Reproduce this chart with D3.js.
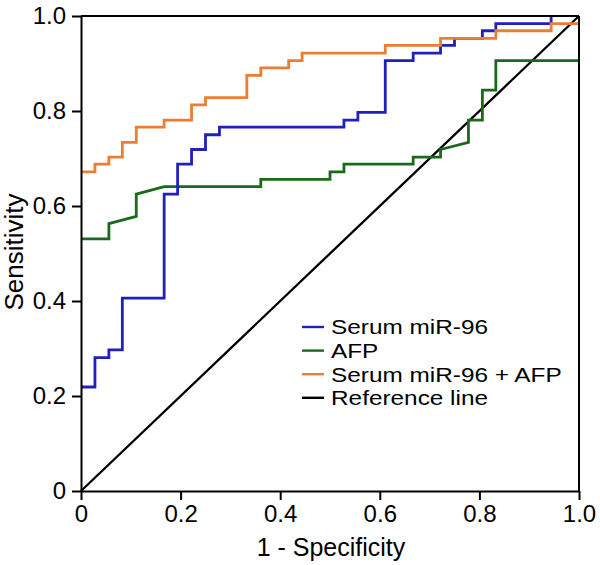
<!DOCTYPE html>
<html>
<head>
<meta charset="utf-8">
<script src="https://cdn.jsdelivr.net/npm/d3@7"></script>
<style>
  html, body { margin: 0; padding: 0; background: #fff; }
  svg { display: block; }
  text { font-family: "Liberation Sans", Arial, Helvetica, sans-serif; fill: #000; }
</style>
</head>
<body>
<svg id="chart" width="600" height="565"></svg>
<script>
// ---- Data ----
const seriesNames = ["Serum miR-96", "AFP", "Serum miR-96 + AFP", "Reference line"];
const seriesColors = ["#2020bd", "#1b6a1b", "#ec7d33", "#000000"];

// ROC vertices: 1 - Specificity (fpr) and Sensitivity (tpr)
const mirFpr = [0, 0.028, 0.028, 0.056, 0.056, 0.083, 0.083, 0.167, 0.167, 0.194, 0.194, 0.222, 0.222, 0.25, 0.25, 0.278, 0.278, 0.528, 0.528, 0.556, 0.556, 0.611, 0.611, 0.667, 0.667, 0.722, 0.722, 0.75, 0.75, 0.806, 0.806, 0.833, 0.833, 0.944, 0.944];
const mirTpr = [0.219, 0.219, 0.281, 0.281, 0.297, 0.297, 0.406, 0.406, 0.625, 0.625, 0.688, 0.688, 0.719, 0.719, 0.75, 0.75, 0.766, 0.766, 0.781, 0.781, 0.797, 0.797, 0.906, 0.906, 0.922, 0.922, 0.938, 0.938, 0.953, 0.953, 0.969, 0.969, 0.984, 0.984, 1.0];

const afpFpr = [0, 0.056, 0.056, 0.111, 0.111, 0.167, 0.361, 0.361, 0.5, 0.5, 0.528, 0.528, 0.667, 0.667, 0.722, 0.722, 0.778, 0.778, 0.806, 0.806, 0.833, 0.833, 1.0];
const afpTpr = [0.531, 0.531, 0.563, 0.578, 0.625, 0.641, 0.641, 0.656, 0.656, 0.672, 0.672, 0.688, 0.688, 0.703, 0.703, 0.719, 0.734, 0.781, 0.781, 0.844, 0.844, 0.906, 0.906];

const combFpr = [0, 0.028, 0.028, 0.056, 0.056, 0.083, 0.083, 0.111, 0.111, 0.167, 0.167, 0.222, 0.222, 0.25, 0.25, 0.333, 0.333, 0.361, 0.361, 0.417, 0.417, 0.444, 0.444, 0.611, 0.611, 0.722, 0.722, 0.833, 0.833, 0.944, 0.944, 1.0];
const combTpr = [0.672, 0.672, 0.688, 0.688, 0.703, 0.703, 0.734, 0.734, 0.766, 0.766, 0.781, 0.781, 0.813, 0.813, 0.828, 0.828, 0.875, 0.875, 0.891, 0.891, 0.906, 0.906, 0.922, 0.922, 0.938, 0.938, 0.953, 0.953, 0.969, 0.969, 0.984, 0.984];

const refFpr = [0, 1];
const refTpr = [0, 1];

const tickValues = [0, 0.2, 0.4, 0.6, 0.8, 1.0];
const tickLabels = ["0", "0.2", "0.4", "0.6", "0.8", "1.0"];
const xTitle = "1 - Specificity";
const yTitle = "Sensitivity";

// ---- Drawing ----
const svg = d3.select("#chart");
const x = d3.scaleLinear().domain([0, 1]).range([81, 579]);
const y = d3.scaleLinear().domain([0, 1]).range([491, 16]);

const series = [
  { fpr: mirFpr, tpr: mirTpr },
  { fpr: afpFpr, tpr: afpTpr },
  { fpr: combFpr, tpr: combTpr },
  { fpr: refFpr, tpr: refTpr }
];

const line = d3.line().x(d => x(d[0])).y(d => y(d[1]));

const drawOrder = [3, 1, 0, 2];
drawOrder.forEach(i => {
  const pts = series[i].fpr.map((f, k) => [f, series[i].tpr[k]]);
  svg.append("path")
    .attr("d", line(pts))
    .attr("fill", "none")
    .attr("stroke", seriesColors[i])
    .attr("stroke-width", i === 3 ? 2.3 : 2.8)
    .attr("stroke-linejoin", "miter");
});

const fmt = v => tickLabels[tickValues.indexOf(v)];

const xAxis = svg.append("g")
  .attr("transform", `translate(0,${y(0)})`)
  .call(d3.axisBottom(x).tickValues(tickValues).tickFormat(fmt).tickSize(9).tickPadding(5).tickSizeOuter(0));
const yAxis = svg.append("g")
  .attr("transform", `translate(${x(0)},0)`)
  .call(d3.axisLeft(y).tickValues(tickValues).tickFormat(fmt).tickSize(9).tickPadding(6).tickSizeOuter(0));

[xAxis, yAxis].forEach(g => {
  g.select(".domain").attr("stroke", "#000").attr("stroke-width", 2);
  g.selectAll(".tick line").attr("stroke", "#000").attr("stroke-width", 2);
  g.selectAll(".tick text").attr("font-size", 24).attr("fill", "#000")
    .style("font-family", '"Liberation Sans", Arial, sans-serif');
});

// frame: top and right borders
svg.append("line").attr("x1", x(0)).attr("x2", x(1)).attr("y1", y(1)).attr("y2", y(1))
  .attr("stroke", "#000").attr("stroke-width", 2);
svg.append("line").attr("x1", x(1)).attr("x2", x(1)).attr("y1", y(1)).attr("y2", y(0))
  .attr("stroke", "#000").attr("stroke-width", 2);

// axis titles
svg.append("text").attr("x", 331).attr("y", 556).attr("text-anchor", "middle")
  .attr("font-size", 25).text(xTitle);
svg.append("text").attr("transform", "translate(23,252) rotate(-90)").attr("text-anchor", "middle")
  .attr("font-size", 26).text(yTitle);

// legend
const legend = svg.append("g");
seriesNames.forEach((name, i) => {
  const cy = 327 + i * 23.6;
  legend.append("line").attr("x1", 302).attr("x2", 324).attr("y1", cy).attr("y2", cy)
    .attr("stroke", seriesColors[i]).attr("stroke-width", 2.4);
  legend.append("text")
    .attr("transform", `translate(331,${cy}) scale(1.16,1)`)
    .attr("dy", "0.35em")
    .attr("font-size", 21)
    .text(name);
});
</script>
</body>
</html>
